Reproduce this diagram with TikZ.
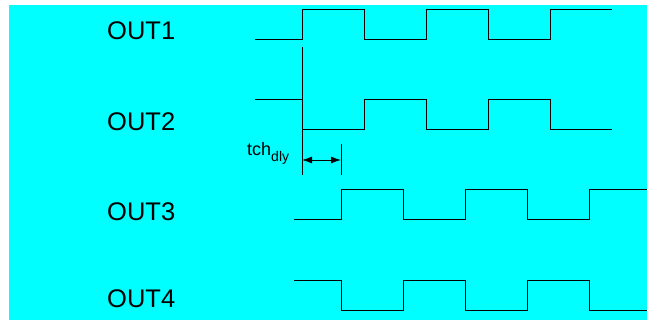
\documentclass[tikz,border=0pt]{standalone}
\usepackage{fontspec}
\setmainfont{Liberation Sans}
\usetikzlibrary{arrows.meta,positioning}

\definecolor{bgcyan}{RGB}{0,255,255}

\begin{document}
\begin{tikzpicture}[x=1pt,y=-1pt,
            lab/.style={anchor=west,inner sep=0,font=\fontsize{25.5}{29}\selectfont},
            wave/.style={draw,line width=1pt,line join=miter},
            ext/.style={draw,line width=0.9pt},
            dim/.style={draw,{Latex[length=10pt,width=7pt]}-{Latex[length=10pt,width=7pt]},line width=0.9pt}
          ]
          \useasboundingbox (0,0) rectangle (647,320);
          \fill[bgcyan] (9,5) rectangle (647,320);

          %labels
          \node[lab] (out1) at (107,31) {OUT1};
          \node[lab] (out2) at (107,122) {OUT2};
          \node[lab] (out3) at (107,212) {OUT3};
          \node[lab] (out4) at (107,299) {OUT4};

          %waveforms
          \path[wave] (255,40) -- (302,40) -- (302,10) -- (364,10) -- (364,40) -- (426,40)
            -- (426,10) -- (488,10) -- (488,40) -- (550,40) -- (550,10) -- (612,10);
          \path[wave] (255,100) -- (302,100) -- (302,130) -- (364,130) -- (364,100) -- (426,100)
            -- (426,130) -- (488,130) -- (488,100) -- (550,100) -- (550,130) -- (612,130);
          \path[wave] (294,220) -- (341,220) -- (341,190) -- (403,190) -- (403,220) -- (465,220)
            -- (465,190) -- (527,190) -- (527,220) -- (589,220) -- (589,190) -- (647,190);
          \path[wave] (294,280) -- (341,280) -- (341,310) -- (403,310) -- (403,280) -- (465,280)
            -- (465,310) -- (527,310) -- (527,280) -- (589,280) -- (589,310) -- (647,310);

          %delay
          \coordinate (d1) at (302,160);
          \coordinate (d2) at (341,160);
          \path[ext] (302,47) -- (302,175);
          \path[ext] (341,144) -- (341,175);
          \path[dim] (d1) -- (d2);
          \node[anchor=base west,inner sep=0,font=\fontsize{18}{20}\selectfont] (tch) at (247,156)
            {tch\raisebox{-6pt}{\fontsize{14}{16}\selectfont dly}};
\end{tikzpicture}
\end{document}
